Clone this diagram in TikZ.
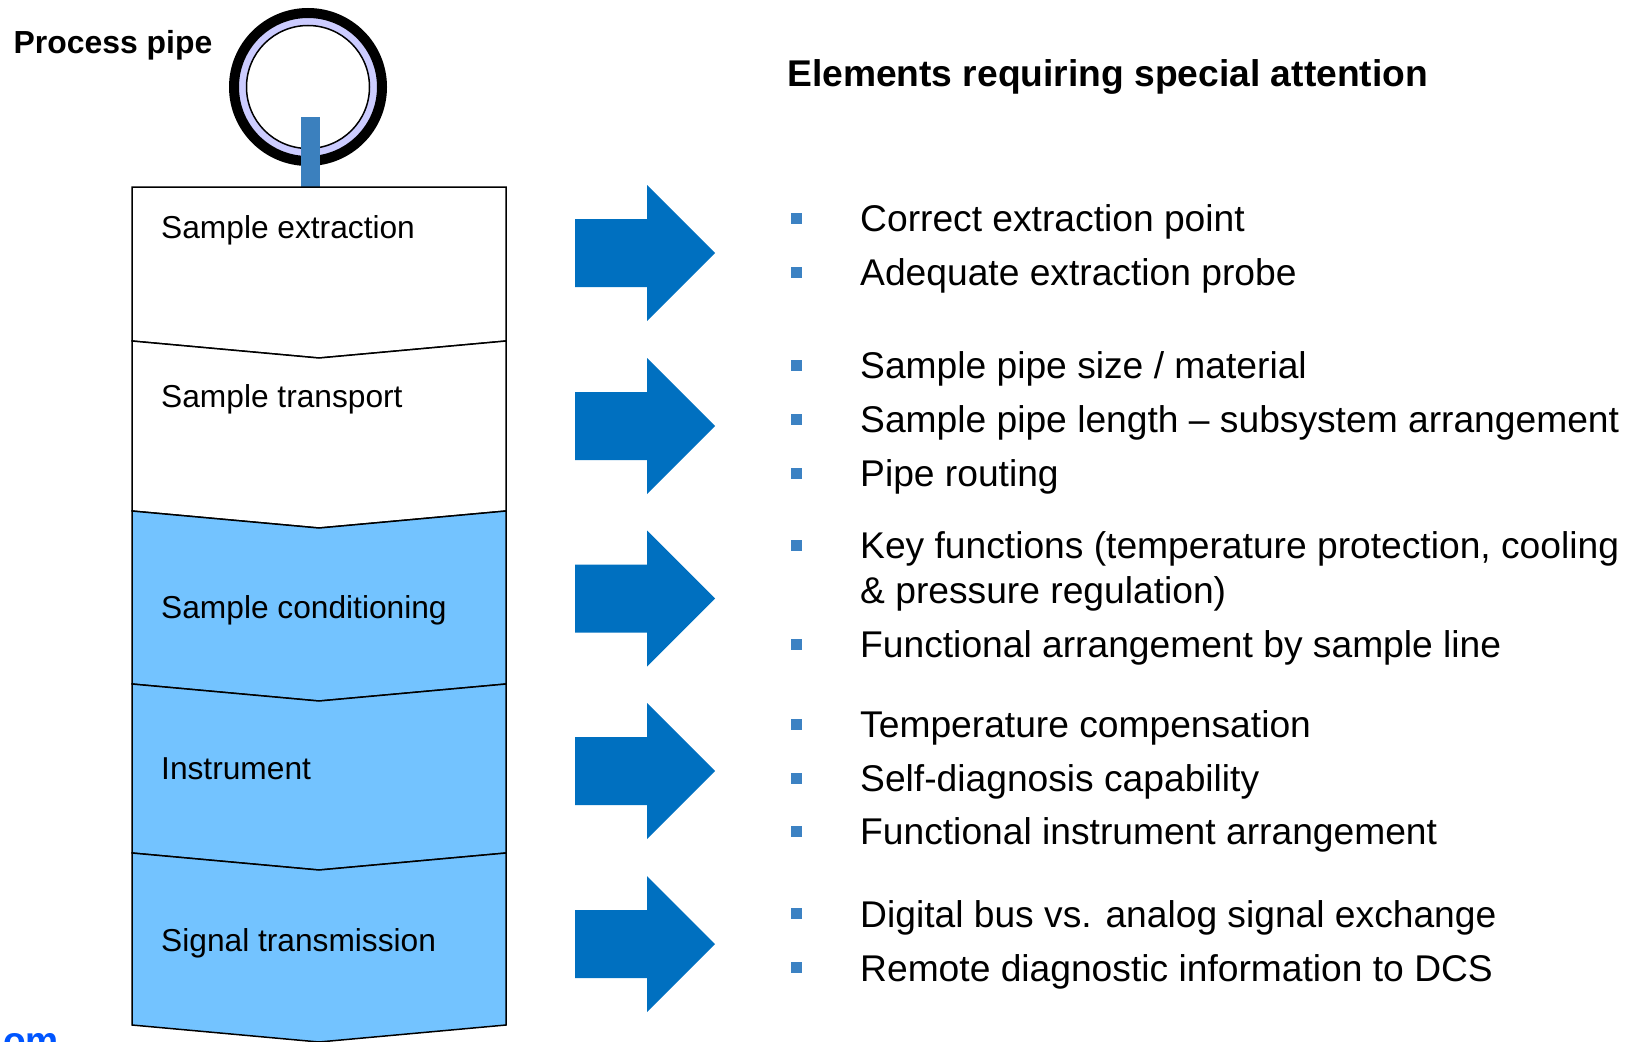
\documentclass[tikz,border=0pt]{standalone}
\usepackage{fontspec}
\setmainfont{Liberation Sans}
\usepackage{tikz}
\definecolor{bandblue}{RGB}{115,195,255}
\definecolor{arrowblue}{RGB}{0,112,192}
\definecolor{bulletblue}{RGB}{60,130,195}
\definecolor{stemblue}{RGB}{59,128,190}
\definecolor{ringlav}{RGB}{204,204,255}
\definecolor{webblue}{RGB}{0,85,255}

\begin{document}
\begin{tikzpicture}[x=1pt,y=-1pt,band/.style={draw=black,line width=1.5pt},
  lab/.style={font=\fontsize{31.7}{36}\selectfont,anchor=base west,inner sep=0pt},
  item/.style={font=\fontsize{37.2}{42}\selectfont,anchor=base west,inner sep=0pt},
  head/.style={font=\fontsize{37.2}{42}\selectfont\bfseries,anchor=base west,inner sep=0pt},
  arr/.style={fill=arrowblue},bul/.style={fill=bulletblue}]
\useasboundingbox (0,0) rectangle (1632,1041);
% process pipe with probe
\fill[ringlav] (308,87) circle (70pt); \draw[line width=10pt] (308,87) circle (74pt);
\draw[fill=white,line width=1.5pt] (308,87) circle (61.5pt);
\fill[stemblue] (301,117) rectangle (320,188);
\node[head,font=\fontsize{31.9}{36}\selectfont\bfseries] (pipelbl) at (13.5,53) {Process pipe};
% stacked chevron bands
\filldraw[band,fill=white] (132,187) -- (506,187) -- (506,341) -- (319,358) -- (132,341) -- cycle;
\filldraw[band,fill=white] (132,341) -- (319,358) -- (506,341) -- (506,511) -- (319,528) -- (132,511) -- cycle;
\filldraw[band,fill=bandblue] (132,511) -- (319,528) -- (506,511) -- (506,684) -- (319,701) -- (132,684) -- cycle;
\filldraw[band,fill=bandblue] (132,684) -- (319,701) -- (506,684) -- (506,853) -- (319,870) -- (132,853) -- cycle;
\filldraw[band,fill=bandblue] (132,853) -- (319,870) -- (506,853) -- (506,1025) -- (319,1042) -- (132,1025) -- cycle;
\node[lab] (extr) at (161,238.3) {Sample extraction}; \node[lab] (transp) at (161,407) {Sample transport};
\node[lab] (cond) at (161,618.3) {Sample conditioning}; \node[lab] (instr) at (161,779.3) {Instrument};
\node[lab] (signal) at (161,951.7) {Signal transmission};
% block arrows
\fill[arr] (575,219) -- ++(72,0) -- ++(0,-34) -- ++(68,68) -- ++(-68,68) -- ++(0,-34) -- ++(-72,0) -- cycle;
\fill[arr] (575,392) -- ++(72,0) -- ++(0,-34) -- ++(68,68) -- ++(-68,68) -- ++(0,-34) -- ++(-72,0) -- cycle;
\fill[arr] (575,564.5) -- ++(72,0) -- ++(0,-34) -- ++(68,68) -- ++(-68,68) -- ++(0,-34) -- ++(-72,0) -- cycle;
\fill[arr] (575,737) -- ++(72,0) -- ++(0,-34) -- ++(68,68) -- ++(-68,68) -- ++(0,-34) -- ++(-72,0) -- cycle;
\fill[arr] (575,910) -- ++(72,0) -- ++(0,-34) -- ++(68,68) -- ++(-68,68) -- ++(0,-34) -- ++(-72,0) -- cycle;
% attention list
\node[head] (title) at (787,86) {Elements requiring special attention};
\fill[bul] (790.5,213) rectangle ++(11,11); \node[item] (e1) at (860,231.8) {Correct extraction point};
\fill[bul] (790.5,267) rectangle ++(11,11); \node[item] (e2) at (860,285.9) {Adequate extraction probe};
\fill[bul] (790.5,360) rectangle ++(11,11); \node[item] (t1) at (860,378.5) {Sample pipe size / material};
\fill[bul] (790.5,414) rectangle ++(11,11); \node[item] (t2) at (860,432.6) {Sample pipe length -- subsystem arrangement};
\fill[bul] (790.5,468) rectangle ++(11,11); \node[item] (t3) at (860,486.8) {Pipe routing};
\fill[bul] (790.5,540) rectangle ++(11,11); \node[item] (c1) at (860,558.6) {Key functions (temperature protection, cooling};
\node[item] (c1b) at (860,603.3) {\& pressure regulation)};
\fill[bul] (790.5,639) rectangle ++(11,11); \node[item] (c2) at (860,657.5) {Functional arrangement by sample line};
\fill[bul] (790.5,719) rectangle ++(11,11); \node[item] (i1) at (860,737.6) {Temperature compensation};
\fill[bul] (790.5,773) rectangle ++(11,11); \node[item] (i2) at (860,791.7) {Self-diagnosis capability};
\fill[bul] (790.5,826) rectangle ++(11,11); \node[item] (i3) at (860,844.8) {Functional instrument arrangement};
\fill[bul] (790.5,908) rectangle ++(11,11); \node[item] (s1) at (860,927) {Digital bus vs. analog signal exchange};
\fill[bul] (790.5,962) rectangle ++(11,11); \node[item] (s2) at (860,981.2) {Remote diagnostic information to DCS};
% cut-off web address
\node[head,text=webblue] (web) at (3,1053) {om};
\end{tikzpicture}
\end{document}
